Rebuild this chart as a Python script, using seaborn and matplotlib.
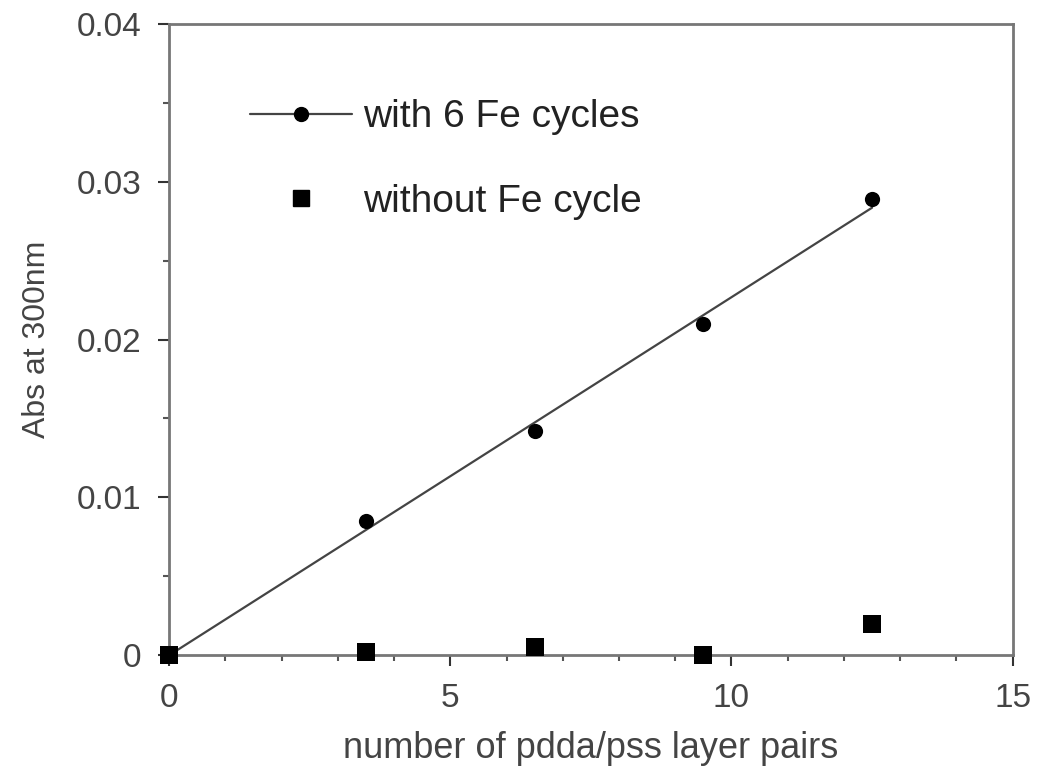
import numpy as np
import pandas as pd
import matplotlib
matplotlib.use("Agg")
import matplotlib.pyplot as plt
from matplotlib.lines import Line2D
from matplotlib.ticker import MultipleLocator, FuncFormatter
import seaborn as sns

# data
layer_pairs = [0, 3.5, 6.5, 9.5, 12.5]
abs_with_fe = [0.0, 0.0085, 0.0142, 0.0210, 0.0289]
abs_without_fe = [0.0, 0.0002, 0.0005, 0.0000, 0.0020]
y_tick_labels = {0.0: "0", 0.01: "0.01", 0.02: "0.02", 0.03: "0.03", 0.04: "0.04"}
label_with = "with 6 Fe cycles"
label_without = "without Fe cycle"
x_label = "number of pdda/pss layer pairs"
y_label = "Abs at 300nm"

sns.set_theme(style="ticks")
plt.rcParams['font.family'] = ['Liberation Sans', 'DejaVu Sans']

fig = plt.figure(figsize=(10.44, 7.70), dpi=100)
ax = fig.add_axes([0.162, 0.149, 0.808, 0.820])

# linear fit through origin
x = np.array(layer_pairs)
y = np.array(abs_with_fe)
slope = np.sum(x * y) / np.sum(x * x)
fit_df = pd.DataFrame({"x": [x.min(), x.max()], "y": [0, slope * x.max()]})
sns.lineplot(data=fit_df, x="x", y="y", ax=ax, color="#444444", lw=1.6, legend=False)

df_with = pd.DataFrame({"x": layer_pairs, "y": abs_with_fe})
df_without = pd.DataFrame({"x": layer_pairs, "y": abs_without_fe})
sns.scatterplot(data=df_with, x="x", y="y", ax=ax, marker="o", s=120, color="black",
                edgecolor="black", linewidth=0, legend=False, zorder=5, clip_on=False)
sns.scatterplot(data=df_without, x="x", y="y", ax=ax, marker="s", s=170, color="black",
                edgecolor="black", linewidth=0, legend=False, zorder=5, clip_on=False)

ax.set_xlim(0, 15)
ax.set_ylim(0, 0.04)
ax.xaxis.set_major_locator(MultipleLocator(5))
ax.xaxis.set_minor_locator(MultipleLocator(1))
ax.yaxis.set_major_locator(MultipleLocator(0.01))
ax.yaxis.set_minor_locator(MultipleLocator(0.005))
ax.yaxis.set_major_formatter(FuncFormatter(lambda v, p: y_tick_labels.get(round(v, 3), "")))
ax.tick_params(axis="both", which="major", direction="out", length=8, width=1.5,
               color="#333333", labelsize=24, labelcolor="#444444", pad=12)
ax.tick_params(axis="both", which="minor", direction="out", length=4, width=1.5, color="#555555")
for s in ax.spines.values():
    s.set_color("#777777")
    s.set_linewidth(2)

ax.set_xlabel(x_label, fontsize=26, color="#444444", labelpad=12)
ax.set_ylabel(y_label, fontsize=23, color="#444444", labelpad=18)

handles = [
    Line2D([0], [0], color="#444444", lw=1.6, marker="o", markersize=10, markerfacecolor="black",
           markeredgecolor="black"),
    Line2D([0], [0], color="none", marker="s", markersize=12, markerfacecolor="black",
           markeredgecolor="black"),
]
leg = ax.legend(handles, [label_with, label_without], loc="upper left",
                bbox_to_anchor=(0.078, 0.905), frameon=False, fontsize=28,
                handlelength=2.6, handletextpad=0.3, labelspacing=1.25, borderaxespad=0)
for t in leg.get_texts():
    t.set_color("#222222")

fig.savefig("out.png", dpi=100)
